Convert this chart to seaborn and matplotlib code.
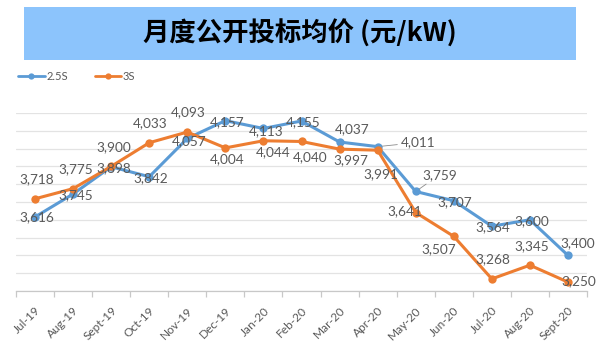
import matplotlib
matplotlib.use("Agg")
import matplotlib.pyplot as plt
import seaborn as sns
import pandas as pd
from matplotlib.patches import Rectangle
from matplotlib.lines import Line2D
from matplotlib.ticker import FixedLocator, MultipleLocator

months = ["Jul-19", "Aug-19", "Sept-19", "Oct-19", "Nov-19", "Dec-19", "Jan-20",
          "Feb-20", "Mar-20", "Apr-20", "May-20", "Jun-20", "Jul-20", "Aug-20", "Sept-20"]
s25 = [3616, 3745, 3898, 3842, 4057, 4157, 4113, 4155, 4037, 4011, 3759, 3707, 3564, 3600, 3400]
s3 = [3718, 3775, 3900, 4033, 4093, 4004, 4044, 4040, 3997, 3991, 3641, 3507, 3268, 3345, 3250]
series_names = ["2.5S", "3S"]
title = "月度公开投标均价 (元/kW)"

BLUE = "#5B9BD5"
ORANGE = "#ED7D31"
GRAY = "#595959"

sns.set_theme(style="white")
plt.rcParams["font.family"] = ["Lato", "Noto Sans CJK SC", "DejaVu Sans"]

W, H, DPI = 608, 354, 100
fig = plt.figure(figsize=(W / DPI, H / DPI), dpi=DPI)

x0, x1 = 16, 587
yb, yt = 291, 113
ax = fig.add_axes([x0 / W, 1 - yb / H, (x1 - x0) / W, (yb - yt) / H])

df = pd.DataFrame({
    "month": months * 2,
    "idx": list(range(len(months))) * 2,
    "value": s25 + s3,
    "series": [series_names[0]] * len(months) + [series_names[1]] * len(months),
})

sns.lineplot(data=df, x="idx", y="value", hue="series", palette=[BLUE, ORANGE],
             marker="o", markersize=6, markeredgewidth=0, linewidth=2.2,
             ax=ax, legend=False, clip_on=False, zorder=3)

ax.set_xlim(-0.5, len(months) - 0.5)
ax.set_ylim(3200, 4200)
ax.yaxis.set_major_locator(MultipleLocator(100))
ax.set_yticklabels([])
ax.tick_params(axis="y", length=0)
ax.grid(axis="y", color="#e3e3e3", linewidth=0.9)
ax.grid(axis="x", visible=False)
for sp in ["left", "right", "top"]:
    ax.spines[sp].set_visible(False)
ax.spines["bottom"].set_color("#c8c8c8")
ax.spines["bottom"].set_linewidth(0.9)
ax.set_xlabel("")
ax.set_ylabel("")

ax.xaxis.set_major_locator(FixedLocator(range(len(months))))
ax.set_xticklabels(months, rotation=45, ha="right", rotation_mode="anchor",
                   fontsize=8.6, color=GRAY)
ax.tick_params(axis="x", which="major", length=0, pad=10)
ax.xaxis.set_minor_locator(FixedLocator([i - 0.5 for i in range(len(months) + 1)]))
ax.tick_params(axis="x", which="minor", length=4, color="#c8c8c8", width=0.9,
               bottom=True, direction="out")

off25 = [(1, 0), (2, -1), (2, -1), (1, -1), (1, -2), (1, -1), (2, -2), (1, -1),
         (9, 9), (29, 3), (17, 12), (1, -1), (1, -1), (1, -1), (7, 9)]
off3 = [(1, 14), (2, 14), (2, 14), (1, 14), (1, 14), (1, -8), (7, -8), (6, -11),
        (8, -8), (2, -17), (-8, 1), (-11, -9), (1, 14), (1, 14), (8, 1)]
leader25 = {9, 10}

for vals, offs, leaders in [(s25, off25, leader25), (s3, off3, set())]:
    for i, (v, (dx, dy)) in enumerate(zip(vals, offs)):
        kw = {}
        if i in leaders:
            kw["arrowprops"] = dict(arrowstyle="-", color="#8c8c8c", lw=0.6,
                                    shrinkA=0, shrinkB=3)
        ax.annotate(f"{v:,}", (i, v), xytext=(dx, dy), textcoords="offset points",
                    ha="center", va="center", fontsize=9.8, color=GRAY,
                    annotation_clip=False, zorder=5, **kw)

handles = [Line2D([], [], color=c, marker="o", markersize=4.5, markeredgewidth=0, lw=2)
           for c in (BLUE, ORANGE)]
fig.legend(handles, series_names, loc="center left",
           bbox_to_anchor=(18 / W, 1 - 76 / H), ncol=2, frameon=False,
           fontsize=8, labelcolor=GRAY, handlelength=2.4, handletextpad=0.15,
           columnspacing=2.4, borderaxespad=0, borderpad=0)

fig.patches.append(Rectangle((24 / W, 1 - 60 / H), 552 / W, 53 / H,
                             transform=fig.transFigure, facecolor="#8CC4FC",
                             edgecolor="none", zorder=0))
fig.text(300 / W, 1 - 34 / H, title, ha="center", va="center", fontsize=19,
         fontweight="bold", color="black",
         family=["Noto Sans CJK SC", "DejaVu Sans"])

fig.savefig("out.png", dpi=DPI)
